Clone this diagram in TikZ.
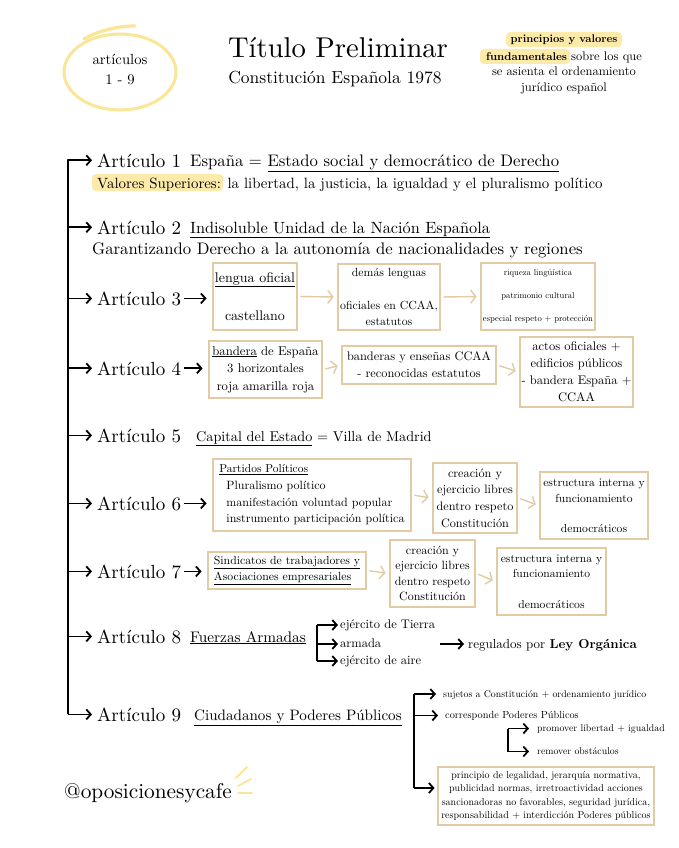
\documentclass[tikz,border=0pt]{standalone}
\usepackage{fontspec}
\setmainfont{lmroman10-regular.otf}[BoldFont=lmroman10-bold.otf, ItalicFont=lmroman10-italic.otf]
\usetikzlibrary{arrows.meta}
\definecolor{boxtan}{RGB}{226,202,163}
\definecolor{hlyel}{RGB}{252,234,170}
\definecolor{circyel}{RGB}{251,229,150}
\newcommand\fsz[2]{\fontsize{#1}{#2}\selectfont}
\begin{document}
\begin{tikzpicture}[x=1pt,y=-1pt,
  every node/.style={inner sep=0pt},
  artnode/.style={anchor=base west, font=\fsz{19}{24}},
  lbl/.style={anchor=base west},
  blk/.style={line width=2.3pt, black},
  blkar/.style={line width=1.8pt, black, -{Straight Barb[length=4.5pt,width=10pt]}},
  tanar/.style={line width=1.4pt, boxtan, -{Straight Barb[length=5pt,width=13pt]}, shorten <=2pt, shorten >=3pt},
  tbox/.style={draw=boxtan, line width=2.8pt, fill=white, align=center},
  hl/.style={fill=hlyel, rounded corners=4pt},
  ray/.style={circyel, line width=1.8pt, line cap=round}
]
\useasboundingbox (0,0) rectangle (678,848);

% ---------- header ----------
\draw[circyel, line width=3pt] (120,72) ellipse [x radius=56, y radius=38];
\draw[circyel, line width=3.2pt, line cap=round] (84,39) .. controls (100,30) and (118,26) .. (135,26);
\node[align=center, font=\fsz{14.7}{20}] (c19) at (120,70) {artículos\\1 - 9};
\node[anchor=base, font=\fsz{28.6}{34}] (tt) at (338,58) {Título Preliminar};
\node[anchor=base, font=\fsz{17.5}{20}] (st) at (335,84) {Constitución Española 1978};
\fill[hl] (506,32) rectangle (622,47);
\fill[hl] (480,49) rectangle (570,64);
\node[anchor=base, font=\fsz{11}{16}] (r1) at (564,43) {\bfseries principios y valores};
\node[anchor=base, font=\fsz{12.5}{16}] (r2) at (564,61) {{\fsz{11.2}{16}\bfseries fundamentales} sobre los que};
\node[anchor=base, font=\fsz{12.5}{16}] (r3) at (564,76) {se asienta el ordenamiento};
\node[anchor=base, font=\fsz{12.5}{16}] (r4) at (564,92) {jurídico español};

% ---------- spine ----------
\coordinate (sp) at (68,0);

% Articulo 1
\node[artnode] (a1) at (97,167) {Artículo 1};
\node[lbl, font=\fsz{16.7}{20}] (t1) at (190,166.5) {España = \underline{Estado social y democrático de Derecho}};
\fill[hl] (92,174) rectangle (223,191);
\node[lbl, font=\fsz{14.86}{16}] (t1b) at (97,188) {Valores Superiores: la libertad, la justicia, la igualdad y el pluralismo político};

% Articulo 2
\node[artnode] (a2) at (97,234) {Artículo 2};
\node[lbl, font=\fsz{16.3}{20}] (t2) at (190,233) {\underline{Indisoluble Unidad de la Nación Española}};
\node[lbl, font=\fsz{16.7}{20}] (t2b) at (92,254) {Garantizando Derecho a la autonomía de nacionalidades y regiones};

% Articulo 3
\node[artnode] (a3) at (97,305) {Artículo 3};
\node[tbox, minimum width=84pt, minimum height=67pt, font=\fsz{14}{38}] (b3a) at (255,296.5) {\underline{lengua oficial}\\castellano};
\node[tbox, minimum width=102pt, minimum height=66pt, font=\fsz{11.8}{16}] (b3b) at (389,297) {demás lenguas\\[17pt]oficiales en CCAA,\\estatutos};
\node[tbox, minimum width=114pt, minimum height=67pt, font=\fsz{8.6}{23}] (b3c) at (538,296.5) {riqueza lingüística\\patrimonio cultural\\especial respeto + protección};
\draw[blkar, shorten <=3pt, shorten >=5pt] (a3.east) -- (a3.east -| b3a.west);
\draw[tanar] (b3a.east) -- (b3b.west);
\draw[tanar] (b3b.east) -- (b3c.west);

% Articulo 4
\node[artnode] (a4) at (97,375) {Artículo 4};
\node[tbox, minimum width=113pt, minimum height=57pt, font=\fsz{12.7}{17.5}] (b4a) at (265.5,369.5) {\underline{bandera} de España\\3 horizontales\\roja amarilla roja};
\node[tbox, minimum width=154pt, minimum height=38pt, font=\fsz{12.35}{17}] (b4b) at (419,365) {banderas y enseñas CCAA\\- reconocidas estatutos};
\node[tbox, minimum width=113pt, minimum height=70pt, font=\fsz{12.5}{17}] (b4c) at (576.5,372) {actos oficiales +\\edificios públicos\\- bandera España +\\CCAA};
\draw[blkar, shorten <=3pt, shorten >=5pt] (a4.east) -- (a4.east -| b4a.west);
\draw[tanar] (b4a.east) -- (b4b.west);
\draw[tanar] (b4b.east) -- (b4c.west);

% Articulo 5
\node[artnode] (a5) at (97,442) {Artículo 5};
\node[lbl, font=\fsz{14.2}{18}] (t5) at (196,441) {\underline{Capital del Estado} = Villa de Madrid};

% Articulo 6
\node[artnode] (a6) at (97,510) {Artículo 6};
\node[tbox, minimum width=198pt, minimum height=72pt, align=left, font=\fsz{12}{16.7}] (b6a) at (312,495) {{\fsz{11.5}{16.7}\underline{Partidos Políticos}}\\\hspace*{7pt}Pluralismo político\\\hspace*{7pt}manifestación voluntad popular\\\hspace*{7pt}instrumento participación política};
\node[tbox, minimum width=84pt, minimum height=70pt, font=\fsz{12.2}{16.7}] (b6b) at (475,498) {creación y\\ejercicio libres\\dentro respeto\\Constitución};
\node[tbox, minimum width=108pt, minimum height=67pt, font=\fsz{11.6}{16.5}] (b6c) at (594,505.5) {estructura interna y\\funcionamiento\\[13pt]democráticos};
\draw[blkar, shorten <=3pt, shorten >=5pt] (a6.east) -- (a6.east -| b6a.west);
\draw[tanar] (b6a.east) -- (b6b.west);
\draw[tanar] (b6b.east) -- (b6c.west);

% Articulo 7
\node[artnode] (a7) at (97,578) {Artículo 7};
\node[tbox, minimum width=158pt, minimum height=37pt, align=left, font=\fsz{11.75}{16}] (b7a) at (287,570.5) {\underline{Sindicatos de trabajadores y}\\\underline{Asociaciones empresariales}};
\node[tbox, minimum width=85pt, minimum height=67pt, font=\fsz{12}{15.5}] (b7b) at (432.5,573.5) {creación y\\ejercicio libres\\dentro respeto\\Constitución};
\node[tbox, minimum width=109pt, minimum height=67pt, font=\fsz{11.6}{15.5}] (b7c) at (551.5,581.5) {estructura interna y\\funcionamiento\\[15pt]democráticos};
\draw[blkar, shorten <=3pt, shorten >=5pt] (a7.east) -- (a7.east -| b7a.west);
\draw[tanar] (b7a.east) -- (b7b.west);
\draw[tanar] (b7b.east) -- (b7c.west);

% Articulo 8
\node[artnode] (a8) at (97,643) {Artículo 8};
\node[lbl, font=\fsz{15.3}{18}] (t8) at (190,642) {\underline{Fuerzas Armadas}};
\coordinate (k8) at (317,0);
\node[lbl, font=\fsz{12.5}{16}] (e8a) at (340,628.5) {ejército de Tierra};
\node[lbl, font=\fsz{12.5}{16}] (e8b) at (340,647.5) {armada};
\node[lbl, font=\fsz{12.5}{16}] (e8c) at (340,664.5) {ejército de aire};
\coordinate (p8a) at ([yshift=3.5pt]e8a.base west);
\coordinate (p8b) at ([yshift=3.5pt]e8b.base west);
\coordinate (p8c) at ([yshift=3.5pt]e8c.base west);
\draw[blk] (k8 |- p8a) -- (k8 |- p8c);
\draw[blkar, shorten >=2pt] (k8 |- p8a) -- (p8a);
\draw[blkar, shorten >=2pt] (k8 |- p8b) -- (p8b);
\draw[blkar, shorten >=2pt] (k8 |- p8c) -- (p8c);
\node[lbl, font=\fsz{13}{18}] (r8) at (468,648) {regulados por \textbf{Ley Orgánica}};
\coordinate (q8) at (440,644);
\draw[blkar, shorten >=4pt] (q8) -- (q8 -| r8.west);

% Articulo 9
\node[artnode] (a9) at (97,721) {Artículo 9};
\node[lbl, font=\fsz{15.1}{18}] (t9) at (194,720.5) {\underline{Ciudadanos y Poderes Públicos}};
\coordinate (k9) at (414,0);
\coordinate (k9b) at (508,0);
\node[lbl, font=\fsz{9.8}{12}] (s9a) at (443,697) {sujetos a Constitución + ordenamiento jurídico};
\node[lbl, font=\fsz{10.3}{12}] (s9b) at (445,718.5) {corresponde Poderes Públicos};
\node[lbl, font=\fsz{9.8}{12}] (s9c) at (537,731.5) {promover libertad + igualdad};
\node[lbl, font=\fsz{9.8}{12}] (s9d) at (537,754.5) {remover obstáculos};
\node[tbox, minimum width=216pt, minimum height=58pt, font=\fsz{10}{13.4}] (b9) at (546,796) {principio de legalidad, jerarquía normativa,\\publicidad normas, irretroactividad acciones\\sancionadoras no favorables, seguridad jurídica,\\responsabilidad + interdicción Poderes públicos};
\coordinate (p9a) at ([yshift=3pt]s9a.base west);
\coordinate (p9b) at ([yshift=3pt]s9b.base west);
\coordinate (p9c) at ([yshift=3pt]s9c.base west);
\coordinate (p9d) at ([yshift=3pt]s9d.base west);
\coordinate (q9) at ([yshift=8pt]b9.west);
\draw[blk] (k9 |- p9a) -- (k9 |- q9);
\draw[blkar, shorten >=7pt] (k9 |- p9a) -- (p9a);
\draw[blkar, shorten >=7pt] (k9 |- p9b) -- (p9b);
\draw[blkar, shorten >=2pt] (k9 |- q9) -- (q9);
\draw[blk] (k9b |- p9c) -- (k9b |- p9d);
\draw[blkar, shorten >=8pt] (k9b |- p9c) -- (p9c);
\draw[blkar, shorten >=8pt] (k9b |- p9d) -- (p9d);

% spine connectors
\draw[blkar, shorten >=5pt, line join=round] (sp |- a9.west) -- (sp |- a1.west) -- (a1.west);
\foreach \k in {a2,a3,a4,a5,a6,a7,a8,a9}{
  \draw[blkar, shorten >=5pt] (sp |- \k.west) -- (\k.west);
}

% footer
\node[lbl, font=\fsz{21.3}{26}] (ig) at (64,798) {@oposicionesycafe};
\draw[ray] (236,778) -- (247,767);
\draw[ray] (238,786) -- (251,779);
\draw[ray] (238,793) -- (252,793);
\end{tikzpicture}
\end{document}
